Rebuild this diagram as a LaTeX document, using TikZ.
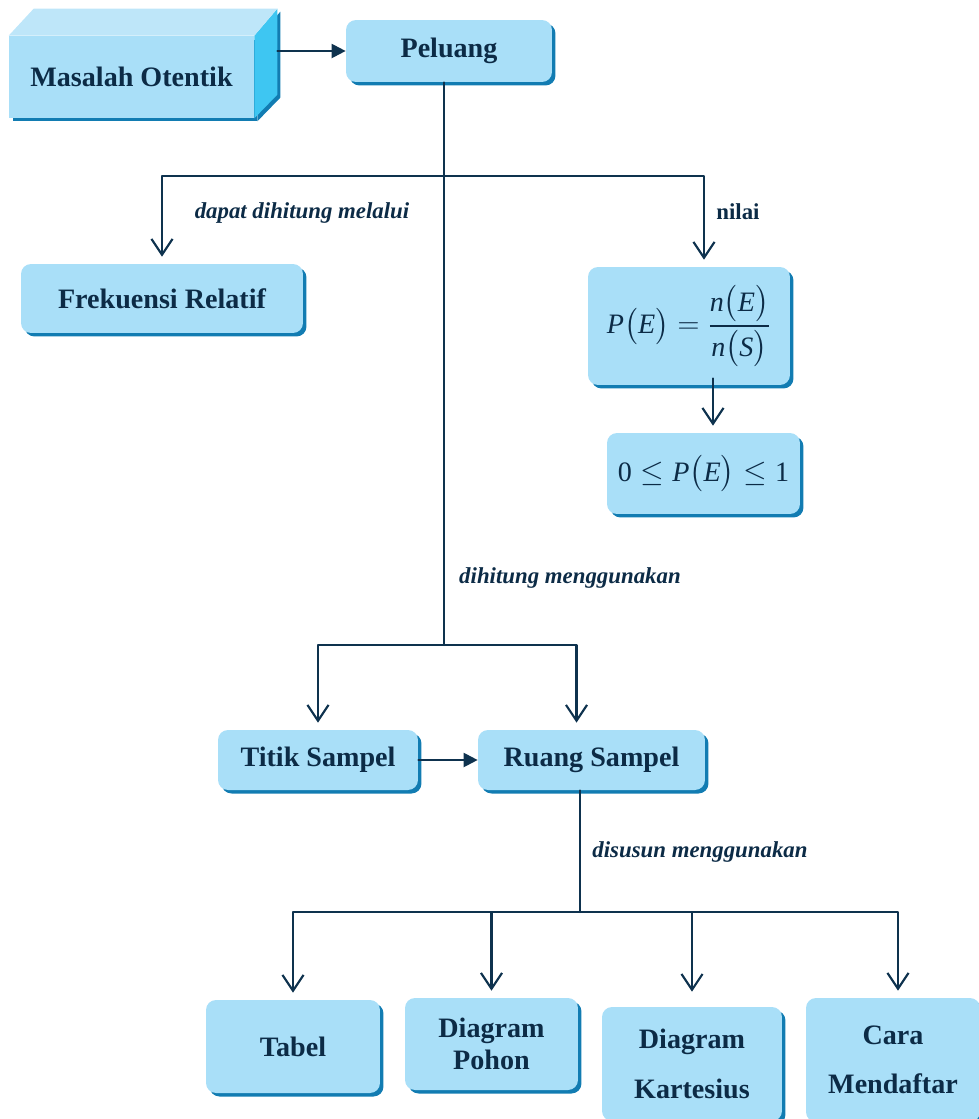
\documentclass[tikz,border=0pt]{standalone}
\usepackage{amsmath}
\usepackage{fontspec}
\setmainfont{Liberation Serif}
\usetikzlibrary{arrows.meta,shadows}

\definecolor{skyfill}{RGB}{169,223,248}
\definecolor{shadeblue}{RGB}{18,124,178}
\definecolor{sidecyan}{RGB}{62,198,242}
\definecolor{toplight}{RGB}{190,230,249}
\definecolor{inknavy}{RGB}{12,43,70}
\definecolor{linenavy}{RGB}{14,50,78}

\newcommand{\boxfont}{\fontsize{16}{19}\selectfont\bfseries}
\newcommand{\notefont}{\fontsize{13}{15}\selectfont\bfseries}
\newcommand{\mv}[1]{\mathit{#1}}

\tikzset{
  concept/.style={rounded corners=0.2cm, fill=skyfill, text=inknavy, font=\boxfont,
    align=center, inner sep=0pt,
    drop shadow={shadow xshift=0.07cm, shadow yshift=-0.07cm, fill=shadeblue, opacity=1}},
  note/.style={text=inknavy, font=\notefont\itshape},
  link/.style={draw=linenavy, line width=1.2pt},
  openarrow/.style={link, -{Straight Barb[length=9pt,width=12pt]}, shorten >=4pt},
  fillarrow/.style={link, -{Triangle[length=8pt,width=8pt]}},
}

\begin{document}
\begin{tikzpicture}[x=0.02cm, y=-0.02cm, line cap=round, line join=round]
  \useasboundingbox (0,0) rectangle (979,1119);

  % Masalah Otentik as a block
  \node[concept, rounded corners=0pt, minimum width=4.9cm, minimum height=1.64cm] (masalah) at (131.5,77) {Masalah Otentik};
  \coordinate (backedge) at ([xshift=0.46cm, yshift=0.54cm]masalah.north east);
  \fill[shadeblue] ([shift={(3,3)}]masalah.north east) -- ([shift={(3,3)}]backedge) -- ++(0,86)
    -- ([shift={(3,3)}]masalah.south east) -- cycle;
  \fill[sidecyan] (masalah.north east) -- (backedge) -- ++(0,86) -- (masalah.south east) -- cycle;
  \fill[toplight] (masalah.north west) -- ++(25,-27) -- (backedge) -- (masalah.north east) -- cycle;

  % Concept boxes
  \node[concept, minimum width=4.12cm, minimum height=1.24cm] (peluang) at (449,51) {Peluang};
  \node[concept, minimum width=5.64cm, minimum height=1.38cm] (frek) at (162,298.5) {Frekuensi Relatif};
  \node[concept, minimum width=4.04cm, minimum height=2.36cm] (formula) at (689,326)
    {$\mv{P}\bigl(\mv{E}\bigr)=\dfrac{\mv{n}\bigl(\mv{E}\bigr)}{\mv{n}\bigl(\mv{S}\bigr)}$};
  \node[concept, minimum width=3.86cm, minimum height=1.62cm] (ineq) at (703.5,473.5)
    {$\mathrm{0}\le \mv{P}\bigl(\mv{E}\bigr)\le \mathrm{1}$};
  \node[concept, minimum width=4cm, minimum height=1.2cm] (titik) at (318,760) {Titik Sampel};
  \node[concept, minimum width=4.54cm, minimum height=1.2cm] (ruang) at (591.5,760) {Ruang Sampel};
  \node[concept, minimum width=3.48cm, minimum height=1.86cm] (tabel) at (293,1046.5) {Tabel};
  \node[concept, minimum width=3.46cm, minimum height=1.84cm] (pohon) at (491.5,1044) {Diagram\\[-1pt]Pohon};
  \node[concept, minimum width=3.6cm, minimum height=2.28cm] (kartesius) at (692,1064) {Diagram\\[9pt]Kartesius};
  \node[concept, minimum width=3.48cm, minimum height=2.48cm] (daftar) at (893,1060) {Cara\\[9pt]Mendaftar};

  % Labels on the links
  \node[note] (lblfrek) at (302,213) {dapat dihitung melalui};
  \node[note, font=\notefont] (lblnilai) at (738,212) {nilai};
  \node[note] (lblhitung) at (570,578) {dihitung menggunakan};
  \node[note] (lblsusun) at (700,852) {disusun menggunakan};

  % Branch points
  \coordinate (b1) at (444,176);
  \coordinate (b2) at (444,645);
  \coordinate (b3) at (580,912);
  \coordinate (fstart) at ([xshift=0.48cm, yshift=0.14cm]formula.south);

  % Connectors
  \draw[fillarrow] (peluang.west -| backedge) -- (peluang.west);
  \draw[link] (peluang.south -| b1) -- (b2);
  \draw[openarrow] (b1) -| (frek.north);
  \draw[openarrow] (b1) -| ([xshift=0.3cm]formula.north);
  \draw[openarrow] (fstart) -- (fstart |- ineq.north);
  \draw[openarrow] (b2) -| (titik.north);
  \draw[openarrow] (b2) -| ([xshift=-0.3cm]ruang.north);
  \draw[fillarrow] (titik.east) -- (ruang.west);
  \draw[link] (ruang.south -| b3) -- (b3);
  \draw[openarrow] (b3) -| (tabel.north);
  \draw[openarrow] (b3) -| (pohon.north);
  \draw[openarrow, shorten >=0.3cm] (b3) -| (kartesius.north);
  \draw[openarrow] (b3) -| ([xshift=0.1cm]daftar.north);
\end{tikzpicture}
\end{document}
